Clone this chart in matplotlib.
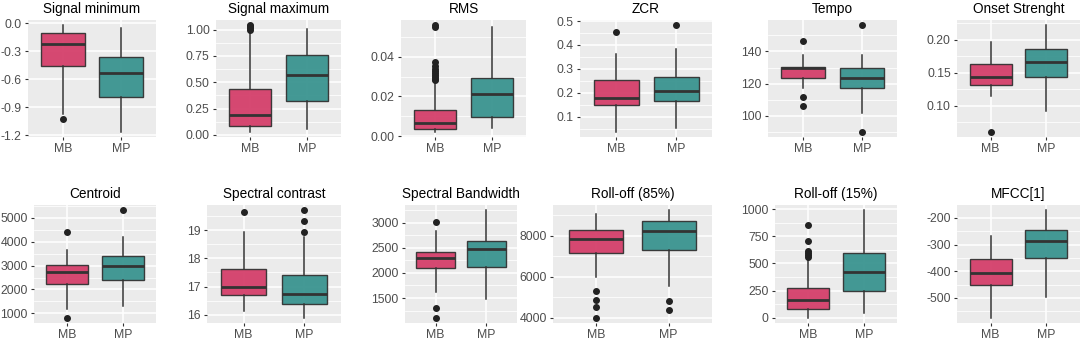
import numpy as np
import matplotlib
matplotlib.use("Agg")
import matplotlib.pyplot as plt

plt.rcParams['font.family'] = ['Liberation Sans', 'DejaVu Sans']

groups = ["MB", "MP"]

titles = ["Signal minimum", "Signal maximum", "RMS", "ZCR", "Tempo", "Onset Strenght",
          "Centroid", "Spectral contrast", "Spectral Bandwidth", "Roll-off (85%)",
          "Roll-off (15%)", "MFCC[1]"]

# (whisker low, q1, median, q3, whisker high)
mb_stats = [
    (-0.975, -0.455, -0.215, -0.097, -0.02),
    (0.03, 0.086, 0.19, 0.435, 0.98),
    (0.0022, 0.0038, 0.0067, 0.0132, 0.0275),
    (0.037, 0.149, 0.177, 0.255, 0.363),
    (117, 123.4, 129.4, 130.4, 137.7),
    (0.114, 0.131, 0.144, 0.164, 0.196),
    (1169, 2211, 2718, 3026, 3674),
    (16.14, 16.71, 17.0, 17.62, 18.94),
    (1615, 2101, 2290, 2426, 2832),
    (5970, 7185, 7850, 8300, 9085),
    (0, 79, 167, 271, 545),
    (-574, -452, -408, -354, -267),
]
mp_stats = [
    (-1.16, -0.79, -0.534, -0.362, -0.054),
    (0.054, 0.32, 0.57, 0.76, 1.007),
    (0.004, 0.0097, 0.0212, 0.0294, 0.055),
    (0.053, 0.167, 0.207, 0.266, 0.381),
    (101.7, 117, 123.4, 130, 137.7),
    (0.0925, 0.144, 0.167, 0.186, 0.222),
    (1324, 2381, 2972, 3395, 4197),
    (15.9, 16.39, 16.72, 17.41, 18.74),
    (1480, 2122, 2480, 2642, 3250),
    (5550, 7320, 8250, 8720, 9250),
    (47, 245, 419, 592, 990),
    (-496, -352, -286, -244, -172),
]
mb_fliers = [
    [-1.02],
    [1.0, 1.01, 1.02, 1.03, 1.04],
    [0.028, 0.029, 0.030, 0.031, 0.032, 0.033, 0.034, 0.0355, 0.0375, 0.055, 0.0558],
    [0.454],
    [146.6, 111.4, 106.2],
    [0.0606],
    [4408, 818],
    [19.64],
    [3020, 1291, 1108],
    [5300, 4885, 4520, 4000],
    [858, 708, 615, 600, 580, 560],
    [],
]
mp_fliers = [
    [],
    [],
    [],
    [0.482],
    [156.3, 90],
    [],
    [5317],
    [19.7, 19.34, 18.95],
    [],
    [4800, 4385],
    [],
    [],
]
y_ticks = [
    [0.0, -0.3, -0.6, -0.9, -1.2],
    [0.0, 0.25, 0.5, 0.75, 1.0],
    [0.0, 0.02, 0.04],
    [0.1, 0.2, 0.3, 0.4, 0.5],
    [100, 120, 140],
    [0.10, 0.15, 0.20],
    [1000, 2000, 3000, 4000, 5000],
    [16, 17, 18, 19],
    [1500, 2000, 2500, 3000],
    [4000, 6000, 8000],
    [0, 250, 500, 750, 1000],
    [-500, -400, -300, -200],
]
y_ticklabels = [
    ["0.0", "-0.3", "-0.6", "-0.9", "-1.2"],
    ["0.00", "0.25", "0.50", "0.75", "1.00"],
    ["0.00", "0.02", "0.04"],
    ["0.1", "0.2", "0.3", "0.4", "0.5"],
    ["100", "120", "140"],
    ["0.10", "0.15", "0.20"],
    ["1000", "2000", "3000", "4000", "5000"],
    ["16", "17", "18", "19"],
    ["1500", "2000", "2500", "3000"],
    ["4000", "6000", "8000"],
    ["0", "250", "500", "750", "1000"],
    ["-500", "-400", "-300", "-200"],
]

# panel boxes in pixels (left, right); rows share top/bottom
W, H = 1084, 341
cols_top = [(28, 156), (216, 341), (401, 526), (580, 712), (768, 897), (957, 1080)]
cols_bot = [(34, 156), (207, 341), (405, 517), (553, 712), (775, 897), (957, 1080)]
rows = [(20, 137), (205, 323)]

colors = ["#D43F6B", "#3A9490"]
edge = "#333333"

fig = plt.figure(figsize=(W / 100, H / 100), dpi=100)

for i, title in enumerate(titles):
    r = i // 6
    left, right = (cols_top if r == 0 else cols_bot)[i % 6]
    top, bot = rows[r]
    ax = fig.add_axes([left / W, 1 - bot / H, (right - left) / W, (bot - top) / H])
    ax.set_facecolor("#EBEBEB")

    stats = []
    for name, s, fl in [(groups[0], mb_stats[i], mb_fliers[i]), (groups[1], mp_stats[i], mp_fliers[i])]:
        stats.append(dict(label=name, whislo=s[0], q1=s[1], med=s[2], q3=s[3], whishi=s[4], fliers=fl))
    bp = ax.bxp(stats, positions=[1, 2], widths=0.75, patch_artist=True, showcaps=False,
                boxprops=dict(edgecolor=edge, linewidth=1.0),
                medianprops=dict(color=edge, linewidth=2.0),
                whiskerprops=dict(color=edge, linewidth=1.1),
                flierprops=dict(marker="o", markersize=4, markerfacecolor="#222222",
                                markeredgecolor="#222222"))
    for patch, c in zip(bp["boxes"], colors):
        patch.set_facecolor(c)
        patch.set_alpha(0.95)
        patch.set_edgecolor(edge)

    # ggplot-style 5% expansion of the data range
    vals = list(mb_stats[i]) + list(mp_stats[i]) + mb_fliers[i] + mp_fliers[i]
    lo, hi = min(vals), max(vals)
    pad = (hi - lo) * 0.05
    ax.set_xlim(0.4, 2.6)

    ticks = y_ticks[i]
    step = ticks[1] - ticks[0]
    minors = np.arange(min(ticks) - step * 2.5, max(ticks) + step * 3, abs(step))
    ax.set_yticks(ticks)
    ax.set_yticklabels(y_ticklabels[i])
    ax.set_yticks(minors, minor=True)
    ax.set_ylim(lo - pad, hi + pad)
    ax.set_xticks([1, 2])
    ax.set_xticklabels(groups)

    ax.set_axisbelow(True)
    ax.grid(which="major", color="white", linewidth=1.1)
    ax.grid(which="minor", axis="y", color="white", linewidth=0.55)
    for sp in ax.spines.values():
        sp.set_visible(False)
    ax.tick_params(which="major", length=2.5, width=0.8, color=edge, labelcolor="#4D4D4D",
                   labelsize=8.8, pad=2)
    ax.tick_params(which="minor", length=0)
    ax.set_title(title, fontsize=9.8, color="black", pad=5)

fig.savefig("out.png", dpi=100)
